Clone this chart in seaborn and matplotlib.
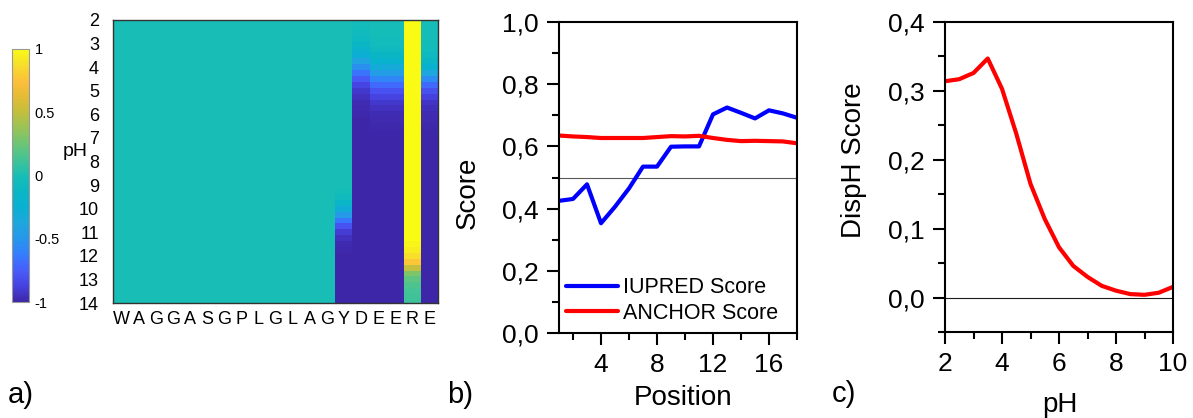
import numpy as np
import pandas as pd
import matplotlib
matplotlib.use("Agg")
import matplotlib.pyplot as plt
from matplotlib.colors import LinearSegmentedColormap
import seaborn as sns

# ---------------- data ----------------
residues = list("WAGGASGPLGLAGYDEERE")
ph_rows = np.arange(2.0, 14.001, 0.25)          # 49 rows, pH 2 .. 14
ph_tick_values = [2, 3, 4, 5, 6, 7, 8, 9, 10, 11, 12, 13, 14]

col_Y = [0.0] * 29 + [-0.02, -0.06, -0.15, -0.30, -0.48, -0.65, -0.80, -0.90,
                      -0.95, -0.98, -0.99, -1.0] + [-1.0] * 8
col_D = [-0.03, -0.04, -0.06, -0.09, -0.13, -0.19, -0.28, -0.40, -0.53, -0.66,
         -0.77, -0.86, -0.92, -0.95, -0.97, -0.98, -0.99] + [-1.0] * 32
col_E1 = [-0.01, -0.01, -0.02, -0.03, -0.05, -0.08, -0.13, -0.21, -0.32, -0.45,
          -0.58, -0.70, -0.80, -0.87, -0.92, -0.95, -0.97, -0.98, -0.99] + [-1.0] * 30
col_E2 = [-0.01, -0.01, -0.02, -0.03, -0.05, -0.08, -0.13, -0.21, -0.32, -0.45,
          -0.58, -0.70, -0.80, -0.87, -0.92, -0.95, -0.97, -0.98, -0.99] + [-1.0] * 30
col_R = [1.0] * 38 + [0.97, 0.94, 0.88, 0.78, 0.50, 0.30, 0.21, 0.16,
                      0.13, 0.12, 0.11]
col_E3 = [0.0, -0.01, -0.01, -0.02, -0.03, -0.05, -0.08, -0.14, -0.24, -0.38,
          -0.55, -0.70, -0.81, -0.88, -0.93, -0.96, -0.97, -0.98, -0.99] + [-1.0] * 30
col_neutral = [0.0] * 49

cbar_ticks = [-1, -0.5, 0, 0.5, 1]
cbar_ticklabels = ["-1", "-0.5", "0", "0.5", "1"]

positions = list(range(1, 19))
iupred = [0.425, 0.431, 0.478, 0.353, 0.406, 0.465, 0.535, 0.535, 0.599,
          0.600, 0.600, 0.703, 0.725, 0.708, 0.690, 0.716, 0.706, 0.692]
anchor = [0.635, 0.632, 0.630, 0.627, 0.627, 0.627, 0.627, 0.630, 0.633,
          0.632, 0.634, 0.627, 0.621, 0.617, 0.618, 0.617, 0.616, 0.610]
b_yticks = [0.0, 0.2, 0.4, 0.6, 0.8, 1.0]
b_yticklabels = ["0,0", "0,2", "0,4", "0,6", "0,8", "1,0"]
b_yminor = [0.1, 0.3, 0.5, 0.7, 0.9]
b_xticks = [4, 8, 12, 16]
b_xminor = [2, 6, 10, 14, 18]

ph_c = [2.0, 2.5, 3.0, 3.5, 4.0, 4.5, 5.0, 5.5, 6.0, 6.5, 7.0, 7.5, 8.0,
        8.5, 9.0, 9.5, 10.0]
disph = [0.314, 0.317, 0.326, 0.347, 0.303, 0.238, 0.165, 0.114, 0.073,
         0.046, 0.030, 0.017, 0.010, 0.005, 0.004, 0.007, 0.0155]
c_yticks = [0.0, 0.1, 0.2, 0.3, 0.4]
c_yticklabels = ["0,0", "0,1", "0,2", "0,3", "0,4"]
c_yminor = [-0.05, 0.05, 0.15, 0.25, 0.35]
c_xticks = [2, 4, 6, 8, 10]
c_xminor = [3, 5, 7, 9]

# ---------------- style ----------------
sns.set_theme(style="white")
plt.rcParams["font.family"] = ["Liberation Sans", "DejaVu Sans"]
plt.rcParams["text.color"] = "black"
plt.rcParams["axes.labelcolor"] = "black"
plt.rcParams["xtick.color"] = "black"
plt.rcParams["ytick.color"] = "black"

parula = LinearSegmentedColormap.from_list("parula", [
    (0.000, (0.2422, 0.1504, 0.6603)),
    (0.062, (0.2760, 0.2602, 0.8826)),
    (0.125, (0.2773, 0.3708, 0.9839)),
    (0.188, (0.2068, 0.4899, 0.9933)),
    (0.250, (0.1540, 0.5902, 0.9218)),
    (0.312, (0.1157, 0.6544, 0.8681)),
    (0.375, (0.0343, 0.6914, 0.8217)),
    (0.438, (0.0410, 0.7166, 0.7665)),
    (0.500, (0.0900, 0.7450, 0.7150)),
    (0.562, (0.2550, 0.7626, 0.5920)),
    (0.625, (0.4204, 0.7715, 0.4635)),
    (0.688, (0.6000, 0.7650, 0.3400)),
    (0.750, (0.7611, 0.7489, 0.2379)),
    (0.812, (0.9004, 0.7351, 0.2082)),
    (0.875, (0.9895, 0.7500, 0.2300)),
    (0.938, (0.9664, 0.8671, 0.1717)),
    (1.000, (0.9769, 0.9839, 0.0805)),
])

W, H = 1193, 418
fig = plt.figure(figsize=(W / 100, H / 100), dpi=100)

def box(x0, y0, x1, y1):
    return [x0 / W, 1 - y1 / H, (x1 - x0) / W, (y1 - y0) / H]

# ---------------- panel a: heatmap ----------------
ax_a = fig.add_axes(box(113, 20, 438, 303))
cax = fig.add_axes(box(12, 49, 29, 302))

matrix = np.column_stack([col_neutral] * 13 +
                         [col_Y, col_D, col_E1, col_E2, col_R, col_E3])
df = pd.DataFrame(matrix, index=ph_rows)
sns.heatmap(df, ax=ax_a, cmap=parula, vmin=-1, vmax=1, cbar_ax=cax,
            xticklabels=residues, yticklabels=False)
n = len(ph_rows)
ax_a.set_ylim(n - 0.5, 0.5)
ph_list = list(np.round(ph_rows, 2))
ax_a.set_yticks([ph_list.index(p) + 0.5 for p in ph_tick_values])
ax_a.set_yticklabels([str(p) for p in ph_tick_values], fontsize=13, rotation=0)
ax_a.set_xticklabels(residues, fontsize=13, rotation=0)
ax_a.tick_params(axis="x", bottom=True, top=True, direction="in", length=3,
                 width=0.8, color="0.25", pad=6)
ax_a.tick_params(axis="y", left=False, right=False, pad=4)
for s in ax_a.spines.values():
    s.set_visible(True)
    s.set_color("0.2")
    s.set_linewidth(1.0)
ax_a.set_xlabel("")
ax_a.set_ylabel("pH", rotation=0, fontsize=14, ha="center", va="center")
ax_a.yaxis.set_label_coords(-0.117, 0.534)

cbar = ax_a.collections[0].colorbar
cbar.set_ticks(cbar_ticks)
cbar.set_ticklabels(cbar_ticklabels)
cax.tick_params(labelsize=10.5, length=2, width=0.6, color="0.4", pad=4,
                direction="in", right=True)
cbar.outline.set_edgecolor("0.6")
cbar.outline.set_linewidth(0.8)

# ---------------- panel b ----------------
ax_b = fig.add_axes(box(559, 22, 797, 333))
ax_b.axhline(0.5, color="0.35", lw=0.8, zorder=1)
sns.lineplot(x=positions, y=iupred, ax=ax_b, color="#0000ff", lw=3,
             label="IUPRED Score")
sns.lineplot(x=positions, y=anchor, ax=ax_b, color="#ff0000", lw=3,
             label="ANCHOR Score")
ax_b.set_xlim(1, 18)
ax_b.set_ylim(0, 1.0)
ax_b.set_yticks(b_yticks)
ax_b.set_yticklabels(b_yticklabels)
ax_b.set_yticks(b_yminor, minor=True)
ax_b.set_xticks(b_xticks)
ax_b.set_xticklabels([str(v) for v in b_xticks])
ax_b.set_xticks(b_xminor, minor=True)
ax_b.legend(loc="lower left", bbox_to_anchor=(0.03, 0.03), frameon=False,
            fontsize=15.5, handlelength=2.4, handletextpad=0.25,
            labelspacing=0.2, borderpad=0, borderaxespad=0)
ax_b.set_xlabel("Position", fontsize=20, va="center")
ax_b.xaxis.set_label_coords(0.521, -0.209)
ax_b.set_ylabel("Score", fontsize=20, va="center")
ax_b.yaxis.set_label_coords(-0.382, 0.45)

# ---------------- panel c ----------------
ax_c = fig.add_axes(box(945, 22, 1173, 332))
ax_c.axhline(0.0, color="0.1", lw=0.8, zorder=1)
sns.lineplot(x=ph_c, y=disph, ax=ax_c, color="#ff0000", lw=3)
ax_c.set_xlim(2, 10)
ax_c.set_ylim(-0.05, 0.4)
ax_c.set_yticks(c_yticks)
ax_c.set_yticklabels(c_yticklabels)
ax_c.set_yticks(c_yminor, minor=True)
ax_c.set_xticks(c_xticks)
ax_c.set_xticklabels([str(v) for v in c_xticks])
ax_c.set_xticks(c_xminor, minor=True)
ax_c.set_xlabel("pH", fontsize=20, va="center")
ax_c.xaxis.set_label_coords(0.504, -0.235)
ax_c.set_ylabel("DispH Score", fontsize=20, va="center")
ax_c.yaxis.set_label_coords(-0.40, 0.555)

for ax in (ax_b, ax_c):
    for s in ax.spines.values():
        s.set_visible(True)
        s.set_color("black")
        s.set_linewidth(1.5)
    ax.tick_params(which="major", direction="out", length=8.5, width=1.5,
                   color="black", labelsize=19, pad=6, labelcolor="black",
                   bottom=True, left=True, top=False, right=False)
    ax.tick_params(which="minor", direction="out", length=5, width=1.5,
                   color="black", bottom=True, left=True, top=False, right=False)
    ax.grid(False)

# ---------------- panel letters ----------------
fig.text(8 / W, 1 - 395 / H, "a)", fontsize=21, va="center", ha="left")
fig.text(447 / W, 1 - 395 / H, "b)", fontsize=21, va="center", ha="left")
fig.text(832 / W, 1 - 394 / H, "c)", fontsize=21, va="center", ha="left")

fig.savefig("out.png", dpi=100)
